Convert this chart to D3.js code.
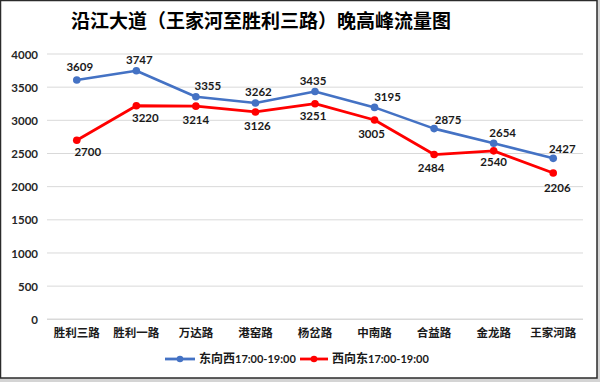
<!DOCTYPE html>
<html><head><meta charset="utf-8">
<script src="https://cdn.jsdelivr.net/npm/d3@7"></script>
<style>
html,body{margin:0;padding:0;background:#fff;}
svg{display:block;}
</style></head>
<body>
<svg id="chart" width="600" height="382"></svg>
<script>
const title = "沿江大道（王家河至胜利三路）晚高峰流量图";
const categories = ["胜利三路","胜利一路","万达路","港窑路","杨岔路","中南路","合益路","金龙路","王家河路"];
const seriesNames = ["东向西17:00-19:00","西向东17:00-19:00"];
const eastToWest = [3609,3747,3355,3262,3435,3195,2875,2654,2427];
const westToEast = [2700,3220,3214,3126,3251,3005,2484,2540,2206];
const yTicks = [0,500,1000,1500,2000,2500,3000,3500,4000];

// label nudges (layout only)
const nudgeEast = [[3,-13],[3,-11],[12,-11],[3,-11],[-2,-10],[13,-10],[14,-9],[9,-10],[9,-9]];
const nudgeWest = [[11,12],[9,12],[0,14],[2,14],[-2,12],[-3,14],[-3,13],[0,11],[4,15]];

const svg = d3.select("#chart");
const W = 600, H = 382;

// outer frame
svg.append("rect").attr("x",0).attr("y",0).attr("width",W).attr("height",H).attr("fill","#d4d4d4");
svg.append("rect").attr("x",0).attr("y",0).attr("width",597).attr("height",378).attr("fill","#fff");
svg.append("rect").attr("x",0.5).attr("y",0.5).attr("width",596.5).attr("height",377.5)
  .attr("fill","none").attr("stroke","#2b2b2b").attr("stroke-width",1.5);

const x = d3.scaleBand().domain(categories).range([47,583]);
const y = d3.scaleLinear().domain([0,4000]).range([319.3,54]);

// gridlines
svg.append("g").selectAll("line").data(yTicks).join("line")
  .attr("x1",47).attr("x2",583)
  .attr("y1",d=>y(d)).attr("y2",d=>y(d))
  .attr("stroke","#d9d9d9").attr("stroke-width",d=>d===0?1.5:1);

// y axis
const yAxis = d3.axisLeft(y).tickValues(yTicks).tickSize(0).tickPadding(0).tickFormat(d3.format("d"));
const gy = svg.append("g").attr("transform","translate(38,0)").call(yAxis);
gy.select(".domain").remove();
gy.selectAll("text").attr("font-family","Lato, 'Noto Sans', sans-serif").attr("font-weight","700")
  .attr("font-size","11.5px").attr("fill","#262626").attr("dy","0.35em");

// x axis
const xAxis = d3.axisBottom(x).tickSize(0).tickPadding(0);
const gx = svg.append("g").attr("transform","translate(0,333)").call(xAxis);
gx.select(".domain").remove();
gx.selectAll("text").attr("font-family","'Noto Sans CJK SC', sans-serif").attr("font-weight","700")
  .attr("font-size","11.5px").attr("fill","#1a1a1a").attr("dy","0.35em");

const colors = ["#4472C4","#FF0000"];
const series = [eastToWest, westToEast];
const nudges = [nudgeEast, nudgeWest];
const widths = [2.6,2.8];

series.forEach((vals,si)=>{
  const line = d3.line().x((d,i)=>x(categories[i])+x.bandwidth()/2).y(d=>y(d));
  svg.append("path").datum(vals).attr("d",line).attr("fill","none")
    .attr("stroke",colors[si]).attr("stroke-width",widths[si]).attr("stroke-linejoin","round");
  svg.append("g").selectAll("circle").data(vals).join("circle")
    .attr("cx",(d,i)=>x(categories[i])+x.bandwidth()/2).attr("cy",d=>y(d)).attr("r",3.8)
    .attr("fill",colors[si]);
});
series.forEach((vals,si)=>{
  svg.append("g").selectAll("text").data(vals).join("text")
    .attr("x",(d,i)=>x(categories[i])+x.bandwidth()/2+nudges[si][i][0])
    .attr("y",(d,i)=>y(d)+nudges[si][i][1])
    .attr("dy","0.35em").attr("text-anchor","middle")
    .attr("font-family","Lato, 'Noto Sans', sans-serif").attr("font-weight","700")
    .attr("font-size","11.5px").attr("fill","#1a1a1a")
    .text(d=>d);
});

// title
svg.append("text").attr("x",261).attr("y",21).attr("dy","0.35em").attr("text-anchor","middle")
  .attr("font-family","'Noto Sans CJK SC', sans-serif").attr("font-weight","700")
  .attr("font-size","19px").attr("fill","#000").text(title);

// legend
const leg = svg.append("g");
const legItems = [{x0:165,x1:195,tx:199},{x0:300,x1:328,tx:332}];
legItems.forEach((it,i)=>{
  leg.append("line").attr("x1",it.x0).attr("x2",it.x1).attr("y1",359).attr("y2",359)
    .attr("stroke",colors[i]).attr("stroke-width",2.8);
  leg.append("circle").attr("cx",(it.x0+it.x1)/2).attr("cy",359).attr("r",3.3).attr("fill",colors[i]);
  const name = seriesNames[i];
  const t = leg.append("text").attr("x",it.tx).attr("y",359).attr("dy","0.35em")
    .attr("font-weight","700").attr("font-size","11px").attr("fill","#1a1a1a");
  t.append("tspan").attr("font-family","'Noto Sans CJK SC', sans-serif").attr("font-size","12px").text(name.slice(0,3));
  t.append("tspan").attr("font-family","Lato, 'Noto Sans', sans-serif").text(name.slice(3));
});
</script>
</body></html>
